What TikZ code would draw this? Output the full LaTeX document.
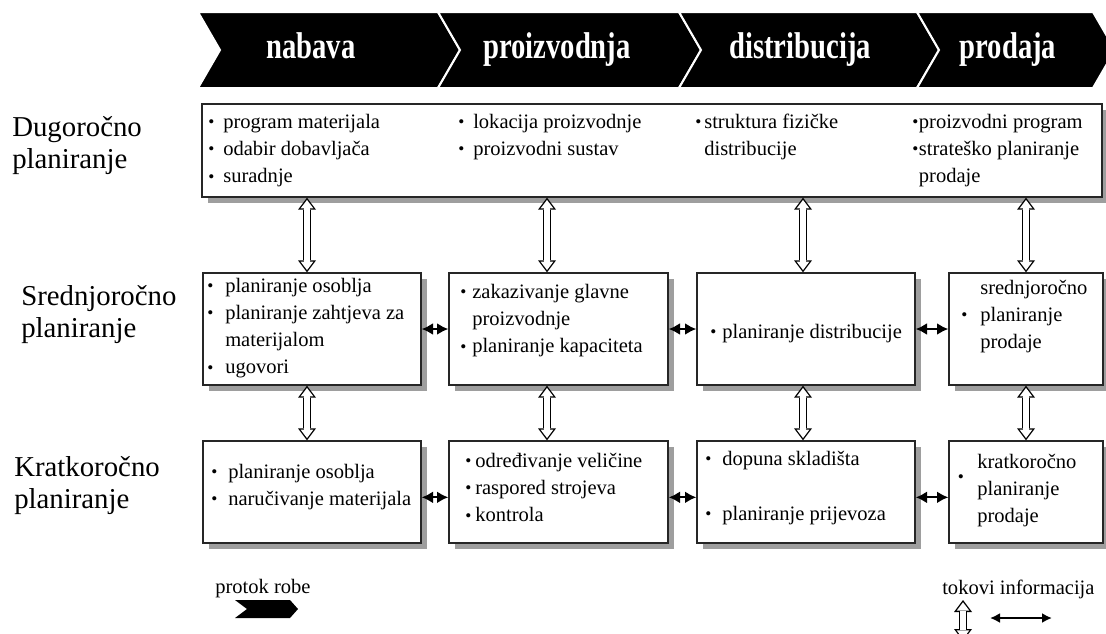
\documentclass[tikz,border=0pt]{standalone}
\usepackage{fontspec}
\setmainfont{Liberation Serif}
\usepackage{graphicx}
\usetikzlibrary{arrows.meta, fit, shadows}

\newcommand{\bodyfont}{\fontsize{15.4pt}{20.4pt}\selectfont}
\newcommand{\rowfont}{\fontsize{21.6pt}{24pt}\selectfont}
\newcommand{\headfont}{\fontsize{21.5pt}{24pt}\selectfont\bfseries}
\newcommand{\bu}[1]{\makebox[#1][l]{\raisebox{0.2pt}{\fontsize{13pt}{13pt}\selectfont\textbullet}}}
\newcommand{\ind}[1]{\hspace*{#1}}
% lines hanging from the baseline of the first one
\newcommand{\lst}[1]{\begin{tabular}[t]{@{}l@{}}#1\end{tabular}}

% chevron of the goods flow banner
\newcommand{\chevron}[2]{\path[chev] (#1,12) -- (#2,12) -- ++(22,38) -- (#2,88) -- (#1,88) -- ++(22,-38) -- cycle;}

% hollow double arrow (information flow between levels)
\newcommand{\infoflow}[2]{%
  \draw[line width=6pt, {Triangle[length=9pt,width=13.5pt,line width=0pt]}-{Triangle[length=9pt,width=13.5pt,line width=0pt]}] #1 -- #2;
  \draw[white, line width=4pt, shorten <=1.7pt, shorten >=1.7pt, {Triangle[length=6.3pt,width=9.5pt,line width=0pt]}-{Triangle[length=6.3pt,width=9.5pt,line width=0pt]}] #1 -- #2;}

\tikzset{
  box/.style={draw=black!85, line width=1pt, fill=white, inner sep=0pt,
    drop shadow={shadow xshift=4.5pt, shadow yshift=-4.5pt, fill=black!38, opacity=1}},
  txt/.style={anchor=base west, inner sep=0pt, font=\bodyfont},
  rowlabel/.style={anchor=base west, inner sep=0pt, font=\rowfont},
  head/.style={anchor=base, inner sep=0pt, text=white, font=\headfont},
  chev/.style={fill=black, draw=white, line width=1.5pt},
  flowmark/.style={fill=black},
  link/.style={line width=1.6pt, {Latex[length=8.5pt,width=9pt]}-{Latex[length=8.5pt,width=9pt]}},
  legendlink/.style={line width=1.4pt, {Latex[length=7.5pt,width=7.5pt]}-{Latex[length=7.5pt,width=7.5pt]}},
}

\begin{document}
\begin{tikzpicture}[x=0.75pt, y=-0.75pt]
    \useasboundingbox (0,0) rectangle (1106,633);

    % Banner
    \chevron{198}{438}
    \chevron{438}{679}
    \chevron{679}{917}
    \chevron{917}{1093}
    \node[head] (nabava) at (311,58) {\scalebox{1}[1.3]{nabava}};
    \node[head] (proizv) at (557,58) {\scalebox{1}[1.3]{proizvodnja}};
    \node[head] (distrib) at (800,58) {\scalebox{1}[1.3]{distribucija}};
    \node[head] (prodaja) at (1008,58) {\scalebox{1}[1.3]{prodaja}};

    % Row labels
    \node[rowlabel] (dugl) at (12,136) {\lst{Dugoročno\\planiranje}};
    \node[rowlabel] (srl) at (21,305) {\lst{Srednjoročno\\planiranje}};
    \node[rowlabel] (krl) at (14,476) {\lst{Kratkoročno\\planiranje}};

    % Boxes
    \node[box, fit={(202,104) (1102,197)}] (dug) {};
    \node[box, fit={(203,273) (421,385)}] (sr1) {};
    \node[box, fit={(449,273) (668,385)}] (sr2) {};
    \node[box, fit={(697,273) (915,385)}] (sr3) {};
    \node[box, fit={(949,273) (1103,385)}] (sr4) {};
    \node[box, fit={(203,441) (421,543)}] (kr1) {};
    \node[box, fit={(449,441) (668,543)}] (kr2) {};
    \node[box, fit={(697,441) (915,543)}] (kr3) {};
    \node[box, fit={(949,441) (1103,543)}] (kr4) {};

    % Long-term
    \node[txt] (dug1) at (208,128) {\lst{\bu{11.25pt}program materijala\\ \bu{11.25pt}odabir dobavljača\\ \bu{11.25pt}suradnje}};
    \node[txt] (dug2) at (458,128) {\lst{\bu{11.25pt}lokacija proizvodnje\\ \bu{11.25pt}proizvodni sustav}};
    \node[txt] (dug3) at (695,128) {\lst{\bu{6.75pt}struktura fizičke\\ \ind{6.75pt}distribucije}};
    \node[txt] (dug4) at (912,128) {\lst{\bu{5pt}proizvodni program\\ \bu{5pt}strateško planiranje\\ \ind{5pt}prodaje}};

    % Mid-term
    \node[txt] (sr1t) at (207,292) {\lst{\bu{13.5pt}planiranje osoblja\\ \bu{13.5pt}planiranje zahtjeva za\\ \ind{13.5pt}materijalom\\ \bu{13.5pt}ugovori}};
    \node[txt] (sr2t) at (460,298) {\lst{\bu{9pt}zakazivanje glavne\\ \ind{9pt}proizvodnje\\ \bu{9pt}planiranje kapaciteta}};
    \node[txt] (sr3t) at (710,338) {\bu{9pt}planiranje distribucije};
    \node[txt] (sr4t) at (961,294) {\lst{\ind{14.25pt}srednjoročno\\ \bu{14.25pt}planiranje\\ \ind{14.25pt}prodaje}};

    % Short-term
    \node[txt] (kr1t) at (211,478) {\lst{\bu{12.75pt}planiranje osoblja\\ \bu{12.75pt}naručivanje materijala}};
    \node[txt] (kr2t) at (465,467) {\lst{\bu{7.5pt}određivanje veličine\\ \bu{7.5pt}raspored strojeva\\ \bu{7.5pt}kontrola}};
    \node[txt] (kr3t) at (705,465) {\lst{\bu{12.75pt}dopuna skladišta\\[21pt] \bu{12.75pt}planiranje prijevoza}};
    \node[txt] (kr4b) at (957,483) {\bu{0pt}};
    \node[txt] (kr4t) at (977,468) {\lst{kratkoročno\\planiranje\\prodaje}};

    % Information flows
    \coordinate (a1) at (307,0);
    \coordinate (a2) at (547,0);
    \coordinate (a3) at (803,0);
    \coordinate (a4) at (1026,0);
    \foreach \i in {1,...,4} {
        \infoflow{(dug.south -| a\i)}{(sr\i.north -| a\i)}
        \infoflow{(sr\i.south -| a\i)}{(kr\i.north -| a\i)}
    }
    \foreach \i/\j in {1/2,2/3,3/4} {
        \draw[link] (sr\i.east) -- (sr\j.west);
        \draw[link] ([yshift=-4pt]kr\i.east) -- ([yshift=-4pt]kr\j.west);
    }

    % Legend
    \node[txt] (robe) at (215,593) {protok robe};
    \path[flowmark] (235,600) -- (290,600) -- (298,609) -- (290,618) -- (235,618) -- (247,609) -- cycle;
    \node[txt] (info) at (942,594) {tokovi informacija};
    \coordinate (lv1) at (963,600);
    \coordinate (lv2) at (963,641);
    \infoflow{(lv1)}{(lv2)}
    \coordinate (lh1) at (990,618);
    \coordinate (lh2) at (1052,618);
    \draw[legendlink] (lh1) -- (lh2);
\end{tikzpicture}
\end{document}
